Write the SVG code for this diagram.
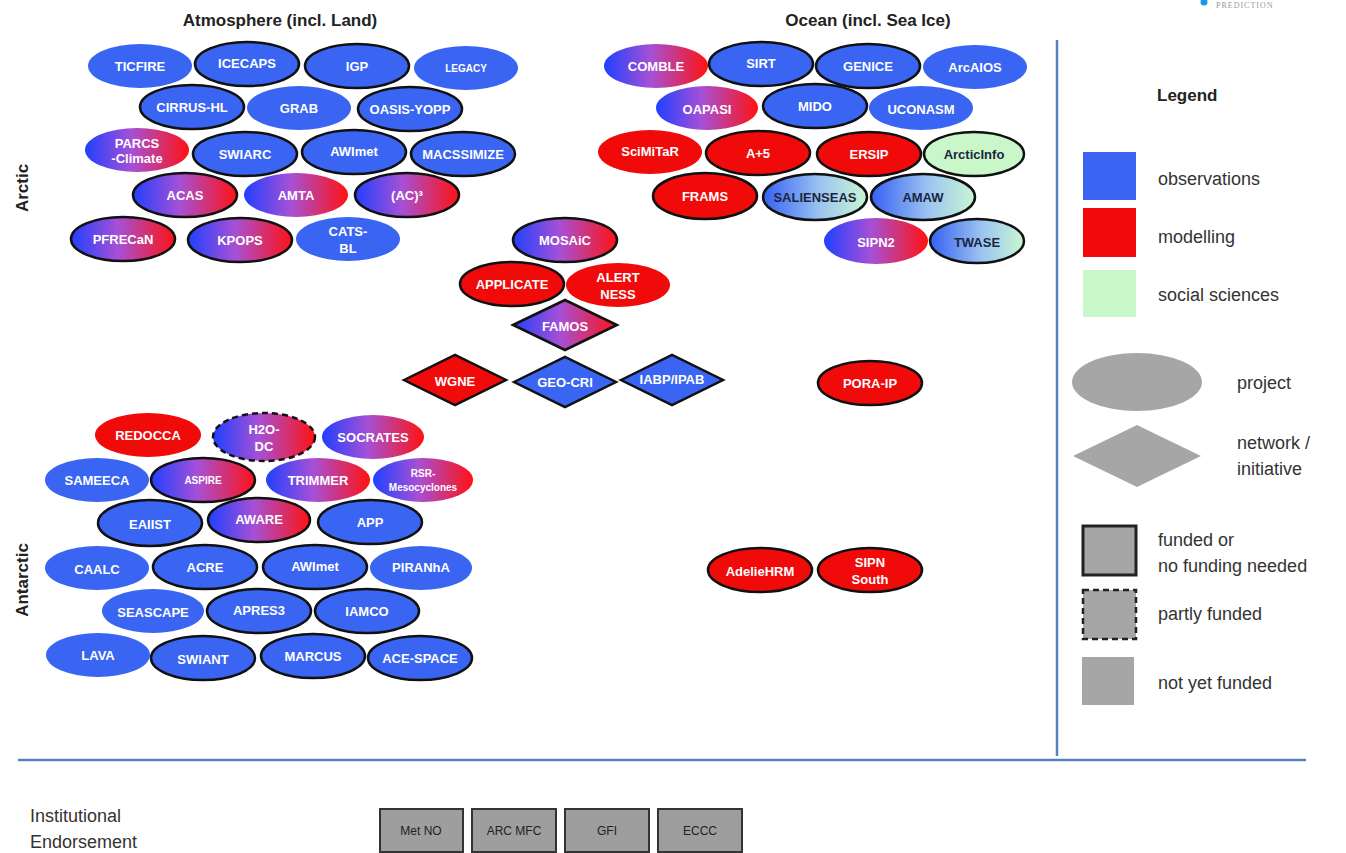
<svg xmlns="http://www.w3.org/2000/svg" width="1346" height="853" viewBox="0 0 1346 853">
<defs>
<linearGradient id="gBR" x1="0" y1="0" x2="1" y2="0">
<stop offset="0" stop-color="#2040ff"/>
<stop offset="0.45" stop-color="#a650d6"/>
<stop offset="1" stop-color="#ff1212"/>
</linearGradient>
<linearGradient id="gBG" x1="0" y1="0" x2="1" y2="0">
<stop offset="0" stop-color="#3560f4"/>
<stop offset="0.55" stop-color="#9cc4f0"/>
<stop offset="1" stop-color="#c9f7d2"/>
</linearGradient>
<style>
.ob{fill:#3a65f2}
.md{fill:#f00a0a}
.so{fill:#c9f7c9}
.gr{fill:url(#gBR)}
.bg{fill:url(#gBG)}
.f{stroke:#111;stroke-width:2.5}
.p{stroke:#111;stroke-width:2.5;stroke-dasharray:6 4}
.t{font-family:"Liberation Sans",Arial,sans-serif;font-weight:bold;font-size:13px;fill:#fff;text-anchor:middle;dominant-baseline:central}
.d{fill:#1b2540}
.s{font-size:10px}
.h{font-family:"Liberation Sans",Arial,sans-serif;font-weight:bold;font-size:17px;fill:#222;text-anchor:middle}
.l{font-family:"Liberation Sans",Arial,sans-serif;font-size:18px;fill:#333}
.lg{fill:#a6a6a6}
.div{stroke:#5682c2;stroke-width:2.5;fill:none}
.box{fill:#9e9e9e;stroke:#333;stroke-width:2}
.bt{font-family:"Liberation Sans",Arial,sans-serif;font-size:12px;fill:#222;text-anchor:middle;dominant-baseline:central}
</style>
</defs>
<rect width="1346" height="853" fill="#ffffff"/>

<g id="headers">
<text class="h" x="280" y="26">Atmosphere (incl. Land)</text>
<text class="h" x="868" y="26">Ocean (incl. Sea Ice)</text>
<text class="h" transform="translate(28,188) rotate(-90)">Arctic</text>
<text class="h" transform="translate(28,580) rotate(-90)">Antarctic</text>
<circle cx="1204" cy="2" r="3.5" fill="#1a9be0"/>
<text x="1216" y="8" font-family="Liberation Serif,serif" font-size="8" fill="#999" letter-spacing="1">PREDICTION</text>
</g>

<g id="dividers">
<line class="div" x1="1057" y1="40" x2="1057" y2="756"/>
<line class="div" x1="18" y1="760" x2="1306" y2="760" stroke-width="3"/>
</g>
<g id="connectors"/>

<!-- Arctic atmosphere -->
<g id="TICFIRE"><ellipse class="ob" cx="140" cy="66" rx="52" ry="22"/><text class="t" x="140" y="66">TICFIRE</text></g>
<g id="ICECAPS"><ellipse class="ob f" cx="247" cy="64" rx="52" ry="22"/><text class="t" x="247" y="63">ICECAPS</text></g>
<g id="IGP"><ellipse class="ob f" cx="357" cy="66" rx="52" ry="22"/><text class="t" x="357" y="66">IGP</text></g>
<g id="LEGACY"><ellipse class="ob" cx="466" cy="68" rx="52" ry="22"/><text class="t s" x="466" y="68" font-size="9">LEGACY</text></g>
<g id="CIRRUS-HL"><ellipse class="ob f" cx="192" cy="107" rx="52" ry="22"/><text class="t" x="192" y="107">CIRRUS-HL</text></g>
<g id="GRAB"><ellipse class="ob" cx="299" cy="108" rx="52" ry="22"/><text class="t" x="299" y="108">GRAB</text></g>
<g id="OASIS-YOPP"><ellipse class="ob f" cx="410" cy="109" rx="52" ry="22"/><text class="t" x="410" y="109">OASIS-YOPP</text></g>
<g id="PARCS-Climate"><ellipse class="gr" cx="137" cy="150" rx="52" ry="22"/><text class="t" x="137" y="150" font-size="12"><tspan x="137" dy="-7">PARCS</tspan><tspan x="137" dy="15">-Climate</tspan></text></g>
<g id="SWIARC"><ellipse class="ob f" cx="245" cy="154" rx="52" ry="22"/><text class="t" x="245" y="154">SWIARC</text></g>
<g id="AWImet-arctic"><ellipse class="ob f" cx="354" cy="152" rx="52" ry="22"/><text class="t" x="354" y="151">AWImet</text></g>
<g id="MACSSIMIZE"><ellipse class="ob f" cx="463" cy="154" rx="52" ry="22"/><text class="t" x="463" y="154">MACSSIMIZE</text></g>
<g id="ACAS"><ellipse class="gr f" cx="185" cy="195" rx="52" ry="22"/><text class="t" x="185" y="195">ACAS</text></g>
<g id="AMTA"><ellipse class="gr" cx="296" cy="195" rx="52" ry="22"/><text class="t" x="296" y="195">AMTA</text></g>
<g id="AC3"><ellipse class="gr f" cx="407" cy="195" rx="52" ry="22"/><text class="t" x="407" y="195">(AC)³</text></g>
<g id="PFRECaN"><ellipse class="gr f" cx="123" cy="239" rx="52" ry="22"/><text class="t" x="123" y="239">PFRECaN</text></g>
<g id="KPOPS"><ellipse class="gr f" cx="240" cy="240" rx="52" ry="22"/><text class="t" x="240" y="240">KPOPS</text></g>
<g id="CATS-BL"><ellipse class="ob" cx="348" cy="239" rx="52" ry="22"/><text class="t" x="348" y="239"><tspan x="348" dy="-8">CATS-</tspan><tspan x="348" dy="17">BL</tspan></text></g>

<!-- Arctic ocean -->
<g id="COMBLE"><ellipse class="gr" cx="656" cy="66" rx="52" ry="22"/><text class="t" x="656" y="66">COMBLE</text></g>
<g id="SIRT"><ellipse class="ob f" cx="761" cy="64" rx="52" ry="22"/><text class="t" x="761" y="63">SIRT</text></g>
<g id="GENICE"><ellipse class="ob f" cx="868" cy="66" rx="52" ry="22"/><text class="t" x="868" y="66">GENICE</text></g>
<g id="ArcAIOS"><ellipse class="ob" cx="975" cy="67" rx="52" ry="22"/><text class="t" x="975" y="67">ArcAIOS</text></g>
<g id="OAPASI"><ellipse class="gr" cx="707" cy="108" rx="51" ry="22"/><text class="t" x="707" y="109">OAPASI</text></g>
<g id="MIDO"><ellipse class="ob f" cx="815" cy="106" rx="52" ry="22"/><text class="t" x="815" y="106">MIDO</text></g>
<g id="UCONASM"><ellipse class="ob" cx="921" cy="108" rx="52" ry="22"/><text class="t" x="921" y="109">UCONASM</text></g>
<g id="SciMiTaR"><ellipse class="md" cx="650" cy="152" rx="52" ry="22"/><text class="t" x="650" y="151">SciMiTaR</text></g>
<g id="A5"><ellipse class="md f" cx="758" cy="153" rx="52" ry="22"/><text class="t" x="758" y="153">A+5</text></g>
<g id="ERSIP"><ellipse class="md f" cx="869" cy="154" rx="52" ry="22"/><text class="t" x="869" y="154">ERSIP</text></g>
<g id="ArcticInfo"><ellipse class="so f" cx="974" cy="154" rx="50" ry="22"/><text class="t d" x="974" y="154">ArcticInfo</text></g>
<g id="FRAMS"><ellipse class="md f" cx="705" cy="196" rx="52" ry="23"/><text class="t" x="705" y="196">FRAMS</text></g>
<g id="SALIENSEAS"><ellipse class="bg f" cx="815" cy="197" rx="52" ry="23"/><text class="t d" x="815" y="197">SALIENSEAS</text></g>
<g id="AMAW"><ellipse class="bg f" cx="923" cy="197" rx="52" ry="23"/><text class="t d" x="923" y="197">AMAW</text></g>
<g id="SIPN2"><ellipse class="gr" cx="876" cy="241" rx="52" ry="23"/><text class="t" x="876" y="242">SIPN2</text></g>
<g id="TWASE"><ellipse class="bg f" cx="977" cy="241" rx="47" ry="22"/><text class="t d" x="977" y="242">TWASE</text></g>

<!-- Center -->
<g id="MOSAiC"><ellipse class="gr f" cx="565" cy="240" rx="52" ry="22"/><text class="t" x="565" y="240">MOSAiC</text></g>
<g id="APPLICATE"><ellipse class="md f" cx="512" cy="284" rx="52" ry="22"/><text class="t" x="512" y="284">APPLICATE</text></g>
<g id="ALERTNESS"><ellipse class="md" cx="618" cy="285" rx="52" ry="22"/><text class="t" x="618" y="285"><tspan x="618" dy="-8">ALERT</tspan><tspan x="618" dy="17">NESS</tspan></text></g>
<g id="FAMOS"><polygon class="gr f" points="513,325 565,300 617,325 565,350"/><text class="t" x="565" y="326">FAMOS</text></g>
<g id="WGNE"><polygon class="md f" points="404,380 455,355 506,380 455,405"/><text class="t" x="455" y="381">WGNE</text></g>
<g id="GEO-CRI"><polygon class="ob f" points="514,382 565,357 616,382 565,407"/><text class="t" x="565" y="382">GEO-CRI</text></g>
<g id="IABP-IPAB"><polygon class="ob f" points="621,380 672,355 723,380 672,405"/><text class="t" x="672" y="379">IABP/IPAB</text></g>
<g id="PORA-IP"><ellipse class="md f" cx="870" cy="383" rx="52" ry="22"/><text class="t" x="870" y="383">PORA-IP</text></g>
<g id="AdelieHRM"><ellipse class="md f" cx="760" cy="570" rx="52" ry="22"/><text class="t" x="760" y="571">AdelieHRM</text></g>
<g id="SIPN-South"><ellipse class="md f" cx="870" cy="570" rx="52" ry="22"/><text class="t" x="870" y="570"><tspan x="870" dy="-8">SIPN</tspan><tspan x="870" dy="17">South</tspan></text></g>

<!-- Antarctic -->
<g id="REDOCCA"><ellipse class="md" cx="148" cy="435" rx="53" ry="22"/><text class="t" x="148" y="435">REDOCCA</text></g>
<g id="H2O-DC"><ellipse class="gr p" cx="264" cy="437" rx="51" ry="24"/><text class="t" x="264" y="437"><tspan x="264" dy="-8">H2O-</tspan><tspan x="264" dy="17">DC</tspan></text></g>
<g id="SOCRATES"><ellipse class="gr" cx="373" cy="437" rx="51" ry="22"/><text class="t" x="373" y="437">SOCRATES</text></g>
<g id="SAMEECA"><ellipse class="ob" cx="97" cy="480" rx="52" ry="22"/><text class="t" x="97" y="480">SAMEECA</text></g>
<g id="ASPIRE"><ellipse class="gr f" cx="203" cy="480" rx="52" ry="22"/><text class="t s" x="203" y="480">ASPIRE</text></g>
<g id="TRIMMER"><ellipse class="gr" cx="318" cy="480" rx="52" ry="22"/><text class="t" x="318" y="480">TRIMMER</text></g>
<g id="RSR-Mesocyclones"><ellipse class="gr" cx="423" cy="480" rx="50" ry="22"/><text class="t s" x="423" y="480"><tspan x="423" dy="-7">RSR-</tspan><tspan x="423" dy="14">Mesocyclones</tspan></text></g>
<g id="EAIIST"><ellipse class="ob f" cx="150" cy="523" rx="52" ry="23"/><text class="t" x="150" y="524">EAIIST</text></g>
<g id="AWARE"><ellipse class="gr f" cx="259" cy="520" rx="51" ry="22"/><text class="t" x="259" y="519">AWARE</text></g>
<g id="APP"><ellipse class="ob f" cx="370" cy="522" rx="52" ry="22"/><text class="t" x="370" y="522">APP</text></g>
<g id="CAALC"><ellipse class="ob" cx="97" cy="568" rx="52" ry="22"/><text class="t" x="97" y="569">CAALC</text></g>
<g id="ACRE"><ellipse class="ob f" cx="205" cy="567" rx="52" ry="22"/><text class="t" x="205" y="567">ACRE</text></g>
<g id="AWImet-antarctic"><ellipse class="ob f" cx="315" cy="567" rx="52" ry="22"/><text class="t" x="315" y="566">AWImet</text></g>
<g id="PIRANhA"><ellipse class="ob" cx="421" cy="568" rx="51" ry="22"/><text class="t" x="421" y="567">PIRANhA</text></g>
<g id="SEASCAPE"><ellipse class="ob" cx="153" cy="611" rx="51" ry="22"/><text class="t" x="153" y="612">SEASCAPE</text></g>
<g id="APRES3"><ellipse class="ob f" cx="259" cy="611" rx="52" ry="22"/><text class="t" x="259" y="610">APRES3</text></g>
<g id="IAMCO"><ellipse class="ob f" cx="367" cy="611" rx="52" ry="22"/><text class="t" x="367" y="611">IAMCO</text></g>
<g id="LAVA"><ellipse class="ob" cx="98" cy="655" rx="52" ry="22"/><text class="t" x="98" y="655">LAVA</text></g>
<g id="SWIANT"><ellipse class="ob f" cx="203" cy="658" rx="52" ry="22"/><text class="t" x="203" y="659">SWIANT</text></g>
<g id="MARCUS"><ellipse class="ob f" cx="313" cy="656" rx="52" ry="22"/><text class="t" x="313" y="656">MARCUS</text></g>
<g id="ACE-SPACE"><ellipse class="ob f" cx="420" cy="658" rx="52" ry="22"/><text class="t" x="420" y="658">ACE-SPACE</text></g>

<!-- Legend -->
<g id="legend">
<text x="1157" y="101" font-family="Liberation Sans,Arial,sans-serif" font-weight="bold" font-size="17" fill="#222">Legend</text>
<rect class="ob" x="1083" y="152" width="53" height="48"/>
<text class="l" x="1158" y="185">observations</text>
<rect class="md" x="1083" y="208" width="53" height="49"/>
<text class="l" x="1158" y="243">modelling</text>
<rect class="so" x="1083" y="270" width="53" height="47"/>
<text class="l" x="1158" y="301">social sciences</text>
<ellipse class="lg" cx="1137" cy="382" rx="65" ry="29"/>
<text class="l" x="1237" y="389">project</text>
<polygon class="lg" points="1073,456 1137,425 1201,456 1137,487"/>
<text class="l" x="1237" y="449">network /</text>
<text class="l" x="1237" y="475">initiative</text>
<rect class="lg" x="1083" y="526" width="53" height="49" stroke="#222" stroke-width="3"/>
<text class="l" x="1158" y="546">funded or</text>
<text class="l" x="1158" y="572">no funding needed</text>
<rect class="lg" x="1083" y="590" width="53" height="49" stroke="#222" stroke-width="2.5" stroke-dasharray="6 4"/>
<text class="l" x="1158" y="620">partly funded</text>
<rect class="lg" x="1082" y="657" width="52" height="48"/>
<text class="l" x="1158" y="689">not yet funded</text>
</g>

<!-- Endorsement -->
<g id="endorsement">
<text class="l" x="30" y="822" fill="#222">Institutional</text>
<text class="l" x="30" y="848" fill="#222">Endorsement</text>
</g>
<g id="MetNO"><rect class="box" x="380" y="809" width="83" height="43"/><text class="bt" x="421" y="831">Met NO</text></g>
<g id="ARCMFC"><rect class="box" x="472" y="809" width="84" height="43"/><text class="bt" x="514" y="831">ARC MFC</text></g>
<g id="GFI"><rect class="box" x="565" y="809" width="84" height="43"/><text class="bt" x="607" y="831">GFI</text></g>
<g id="ECCC"><rect class="box" x="658" y="809" width="84" height="43"/><text class="bt" x="700" y="831">ECCC</text></g>
</svg>
